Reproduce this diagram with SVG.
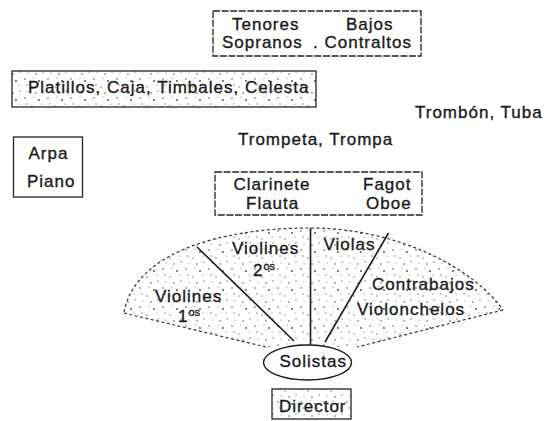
<svg xmlns="http://www.w3.org/2000/svg" width="555" height="421" viewBox="0 0 555 421">
<style>
text{font-family:"Liberation Sans",Arial,sans-serif;font-size:17px;letter-spacing:1px;fill:#1a1a1a;stroke:#1a1a1a;stroke-width:0.35}
.sup{font-size:11px;letter-spacing:0}
.box{fill:none;stroke:#222;stroke-width:1.3}
.dash{stroke-dasharray:7 1.6}
.stip{fill:url(#dots)}
.edge{fill:none;stroke:#333;stroke-width:1.2;stroke-dasharray:3 2.5}
.div{stroke:#1a1a1a;stroke-width:1.6;fill:none}
</style>
<defs>
<pattern id="dots" width="23" height="19" patternUnits="userSpaceOnUse">
<circle cx="2" cy="3" r="0.8" fill="#555"/>
<circle cx="9" cy="11" r="0.7" fill="#666"/>
<circle cx="16" cy="5" r="0.9" fill="#444"/>
<circle cx="20" cy="15" r="0.7" fill="#666"/>
<circle cx="5" cy="16" r="0.6" fill="#777"/>
<circle cx="13" cy="17" r="0.8" fill="#555"/>
<circle cx="11" cy="2" r="0.6" fill="#777"/>
<circle cx="19" cy="9" r="0.6" fill="#666"/>
<circle cx="4" cy="9" r="0.7" fill="#666"/>
</pattern>
</defs>

<g id="coro">
<rect class="box dash" x="213" y="11" width="208" height="45"/>
<text x="232" y="29.5">Tenores</text>
<text x="346" y="29.5">Bajos</text>
<text x="222" y="47.5">Sopranos</text>
<text x="313" y="47.5">. Contraltos</text>
</g>

<g id="percusion">
<rect class="stip" x="12" y="71" width="304" height="36"/>
<rect class="box" x="12" y="71" width="304" height="36"/>
<text x="28" y="93">Platillos, Caja, Timbales, Celesta</text>
</g>

<g id="trombon-tuba">
<text x="415" y="117.5">Trombón, Tuba</text>
</g>

<g id="trompeta-trompa">
<text x="238" y="145">Trompeta, Trompa</text>
</g>

<g id="arpa-piano">
<rect class="box" x="13.5" y="137" width="69" height="60"/>
<text x="28.5" y="158.5">Arpa</text>
<text x="27" y="187">Piano</text>
</g>

<g id="maderas">
<rect class="box dash" x="215" y="172" width="207" height="43"/>
<text x="233.5" y="189.5">Clarinete</text>
<text x="363" y="189.5">Fagot</text>
<text x="246" y="208.5">Flauta</text>
<text x="366" y="208.5">Oboe</text>
</g>

<g id="cuerdas">
<path class="stip" d="M124,312 C135,255 215,228 310,228 C400,228 475,270 503,310 L357,347 L266,347 Z"/>
<path class="edge" d="M124,312 C135,255 215,228 310,228 C400,228 475,270 503,310"/>
<path class="edge" d="M124,313 L266,347 M503,310 L357,347"/>
<text x="155" y="301.5">Violines</text>
<text x="178" y="321.5">1<tspan class="sup" dy="-6">os</tspan></text>
<text x="232" y="254">Violines</text>
<text x="253" y="276">2<tspan class="sup" dy="-6">os</tspan></text>
<text x="323.5" y="250">Violas</text>
<text x="372" y="289.5">Contrabajos</text>
<text x="357" y="315">Violonchelos</text>
</g>

<g id="connectors">
<line class="div" x1="197" y1="247" x2="294" y2="341"/>
<line class="div" x1="310.5" y1="228" x2="310.5" y2="345"/>
<line class="div" x1="388.5" y1="233" x2="325" y2="342"/>
</g>

<g id="solistas">
<ellipse cx="307.5" cy="362.5" rx="44" ry="17.5" fill="#fff" stroke="#1a1a1a" stroke-width="1.4"/>
<text x="279.5" y="366.5">Solistas</text>
</g>

<g id="director">
<rect class="stip" x="272" y="389" width="79" height="30"/>
<rect class="box" x="272" y="389" width="79" height="30"/>
<text x="279" y="411.5">Director</text>
</g>
</svg>
